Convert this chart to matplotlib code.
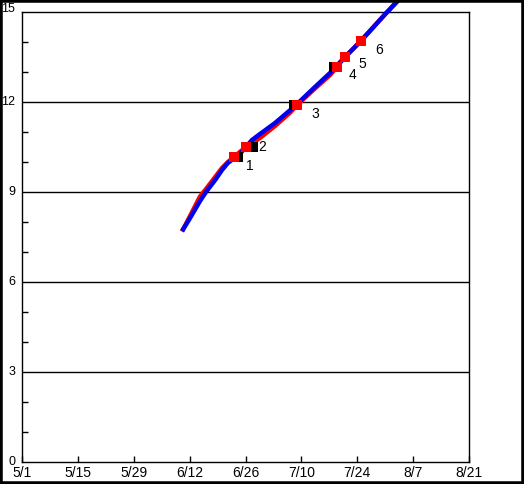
import matplotlib
matplotlib.use("Agg")
import matplotlib.pyplot as plt
from matplotlib.patches import Rectangle
import numpy as np

# x values are days after 5/1
tick_days = [0, 14, 28, 42, 56, 70, 84, 98, 112]
tick_labels = ["5/1", "5/15", "5/29", "6/12", "6/26", "7/10", "7/24", "8/7", "8/21"]
y_ticks = [0, 3, 6, 9, 12, 15]
y_labels = ["0", "3", "6", "9", "12", "15"]

blue_days = [40.1, 42.1, 44.6, 46.1, 48.4, 50.1, 51.6, 52.9, 54.1, 55.9, 57.6, 59.6,
             63.4, 67.2, 69.7, 73.4, 77.2, 79.7, 83.4, 87.2, 91.0, 94.4]
blue_vals = [7.70, 8.13, 8.70, 9.00, 9.40, 9.73, 9.97, 10.10, 10.20, 10.47, 10.73, 10.93,
             11.30, 11.73, 12.03, 12.50, 12.97, 13.33, 13.83, 14.37, 14.93, 15.40]

red_days = [40.1, 42.1, 44.6, 46.1, 48.4, 50.1, 51.6, 53.1, 56.1, 57.6, 59.6,
            63.4, 67.2, 68.9, 73.4, 77.2, 78.9, 80.9, 84.9, 88.4, 92.2, 94.2]
red_vals = [7.68, 8.20, 8.85, 9.10, 9.50, 9.80, 10.00, 10.17, 10.50, 10.62, 10.80,
            11.20, 11.65, 11.90, 12.45, 12.90, 13.17, 13.50, 14.03, 14.55, 15.10, 15.40]

red_pt_days = [53.1, 56.1, 68.9, 78.9, 80.9, 84.9]
red_pt_vals = [10.17, 10.50, 11.90, 13.17, 13.50, 14.03]
black_pt_days = [54.1, 57.9, 68.2, 78.2, 80.9, 84.9]
black_pt_vals = [10.17, 10.50, 11.90, 13.17, 13.50, 14.03]
pt_labels = ["1", "2", "3", "4", "5", "6"]
label_offsets = [(12, -9), (12, 0), (14, -9), (12, -8), (14, -7), (14, -9)]

font = "Liberation Sans"
fs = 10

fig = plt.figure(figsize=(5.24, 4.84), dpi=100)
fig.patch.set_facecolor("white")
ax = fig.add_axes([22/524, 22/484, 447/524, 450/484])

ax.set_xlim(0, 112)
ax.set_ylim(0, 15)

for y in [3, 6, 9, 12]:
    ax.axhline(y, color="black", lw=1, zorder=1)

ax.plot(red_days, red_vals, color="red", lw=3.2, zorder=2, clip_on=False, solid_capstyle="butt")
ax.plot(blue_days, blue_vals, color="#0000ee", lw=3.2, zorder=3, clip_on=False, solid_capstyle="butt")

ax.plot(black_pt_days, black_pt_vals, "s", color="black", ms=7.5, mew=0, zorder=4, ls="none")
ax.plot(red_pt_days, red_pt_vals, "s", color="red", ms=7.5, mew=0, zorder=5, ls="none")

for d, v, lab, off in zip(red_pt_days, red_pt_vals, pt_labels, label_offsets):
    ax.annotate(lab, (d, v), xytext=(off[0]*0.72, off[1]*0.72), textcoords="offset points",
                fontsize=fs, family=font, ha="left", va="center")

ax.set_xticks(tick_days)
ax.set_xticklabels(tick_labels, family=font, fontsize=fs)
ax.set_yticks(y_ticks)
ax.set_yticklabels(y_labels, family=font, fontsize=9)
ax.set_yticks(np.arange(0, 16, 1), minor=True)
ax.tick_params(axis="y", which="major", length=0, pad=5)
ax.tick_params(axis="y", which="minor", direction="in", length=4, width=1)
ax.tick_params(axis="x", which="major", direction="in", length=4, width=1, pad=3)
ylabs = ax.get_yticklabels()
for lab in ylabs:
    lab.set_verticalalignment("center")
ylabs[-1].set_verticalalignment("baseline")
for s in ax.spines.values():
    s.set_linewidth(1)
    s.set_color("black")

fig.patches.append(Rectangle((0, 0), 1, 1, transform=fig.transFigure, fill=False,
                             edgecolor="black", lw=4, zorder=10))

fig.savefig("out.png", dpi=100)
